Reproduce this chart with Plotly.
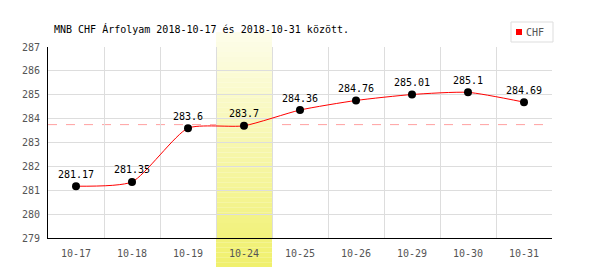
import plotly.graph_objects as go

categories = ["10-17", "10-18", "10-19", "10-24", "10-25", "10-26", "10-29", "10-30", "10-31"]
values = [281.17, 281.35, 283.6, 283.7, 284.36, 284.76, 285.01, 285.1, 284.69]
value_labels = ["281.17", "281.35", "283.6", "283.7", "284.36", "284.76", "285.01", "285.1", "284.69"]
y_ticks = [279, 280, 281, 282, 283, 284, 285, 286, 287]
highlight_category = "10-24"
series_name = "CHF"
title_text = "MNB CHF Árfolyam 2018-10-17 és 2018-10-31 között."

FONT = "DejaVu Sans Mono"
W, H = 600, 270
L, R, T, B = 48, 48, 47, 32
PW, PH = W - L - R, H - T - B
ymin, ymax = y_ticks[0], y_ticks[-1]
avg = sum(values) / len(values)

def px_x(p):
    return (p - L) / PW

def px_y(p):
    return (H - B - p) / PH

fig = go.Figure()

fig.add_trace(go.Scatter(
    x=categories, y=values, mode="lines+markers+text", name=series_name,
    text=value_labels, textposition="top center",
    textfont=dict(family=FONT, size=10, color="#000"),
    line=dict(color="#ff0000", width=1, shape="spline", smoothing=0.6),
    marker=dict(color="#000", size=8),
    showlegend=False, cliponaxis=False,
))

# highlight band with vertical gradient
hi = categories.index(highlight_category)
top_px, bot_px = 32, 267
c_top = (253, 253, 235)
c_bot = (240, 240, 108)
def col(py):
    t = (py - top_px) / (bot_px - top_px)
    return "rgb(%d,%d,%d)" % tuple(round(a + (b - a) * t) for a, b in zip(c_top, c_bot))

def strips(a, b, n):
    step = (b - a) / n
    return [(a + i * step, a + (i + 1) * step) for i in range(n)]

shapes = []
for y0p, y1p in strips(top_px, T, 3) + strips(H - B, bot_px, 6):
    shapes.append(dict(type="rect", xref="x", yref="paper", layer="below",
                       x0=hi - 0.5, x1=hi + 0.5,
                       y0=px_y(y1p), y1=px_y(y0p),
                       fillcolor=col((y0p + y1p) / 2), line=dict(width=0)))
for y0p, y1p in strips(T, H - B, 38):
    shapes.append(dict(type="rect", xref="x", yref="y", layer="below",
                       x0=hi - 0.5, x1=hi + 0.5,
                       y0=ymin + px_y(y1p) * (ymax - ymin),
                       y1=ymin + px_y(y0p) * (ymax - ymin),
                       fillcolor=col((y0p + y1p) / 2), line=dict(width=0)))
# average dashed line
shapes.append(dict(type="line", xref="paper", yref="y", x0=0, x1=1, y0=avg, y1=avg,
                   line=dict(color="rgb(255,160,160)", width=1, dash="dash"), layer="below"))
# legend box
shapes.append(dict(type="rect", xref="paper", yref="paper", layer="above",
                   x0=px_x(511), x1=px_x(553), y0=px_y(42), y1=px_y(22),
                   fillcolor="white", line=dict(color="#ddd", width=1)))
shapes.append(dict(type="rect", xref="paper", yref="paper", layer="above",
                   x0=px_x(516), x1=px_x(522), y0=px_y(35), y1=px_y(29),
                   fillcolor="#ff0000", line=dict(width=0)))

annotations = [dict(text=series_name, xref="paper", yref="paper", x=px_x(524), y=px_y(32),
                    xanchor="left", yanchor="middle", showarrow=False,
                    font=dict(family=FONT, size=10, color="#555"))]

fig.update_layout(
    width=W, height=H,
    margin=dict(l=L, r=R, t=T, b=B),
    paper_bgcolor="white", plot_bgcolor="white",
    shapes=shapes, annotations=annotations,
    font=dict(family=FONT, size=10, color="#555"),
    title=dict(text=title_text, x=px_x(54), xref="paper", xanchor="left",
               y=1 - 29 / H, yanchor="middle",
               font=dict(family=FONT, size=10, color="#000")),
    showlegend=False,
    xaxis=dict(type="category", tickson="boundaries", showgrid=True, gridcolor="#ddd", gridwidth=1,
               showline=True, linecolor="#000", linewidth=1, ticks="", range=[-0.5, len(categories) - 0.5],
               tickfont=dict(family=FONT, size=10, color="#555"), fixedrange=True,
               ticklabelstandoff=6),
    yaxis=dict(range=[ymin, ymax], tickvals=y_ticks, showgrid=True, gridcolor="#ddd", gridwidth=1,
               showline=True, linecolor="#000", linewidth=1, ticks="", zeroline=False,
               tickfont=dict(family=FONT, size=10, color="#555"), ticklabelstandoff=5),
)

fig.write_html("out.html")
